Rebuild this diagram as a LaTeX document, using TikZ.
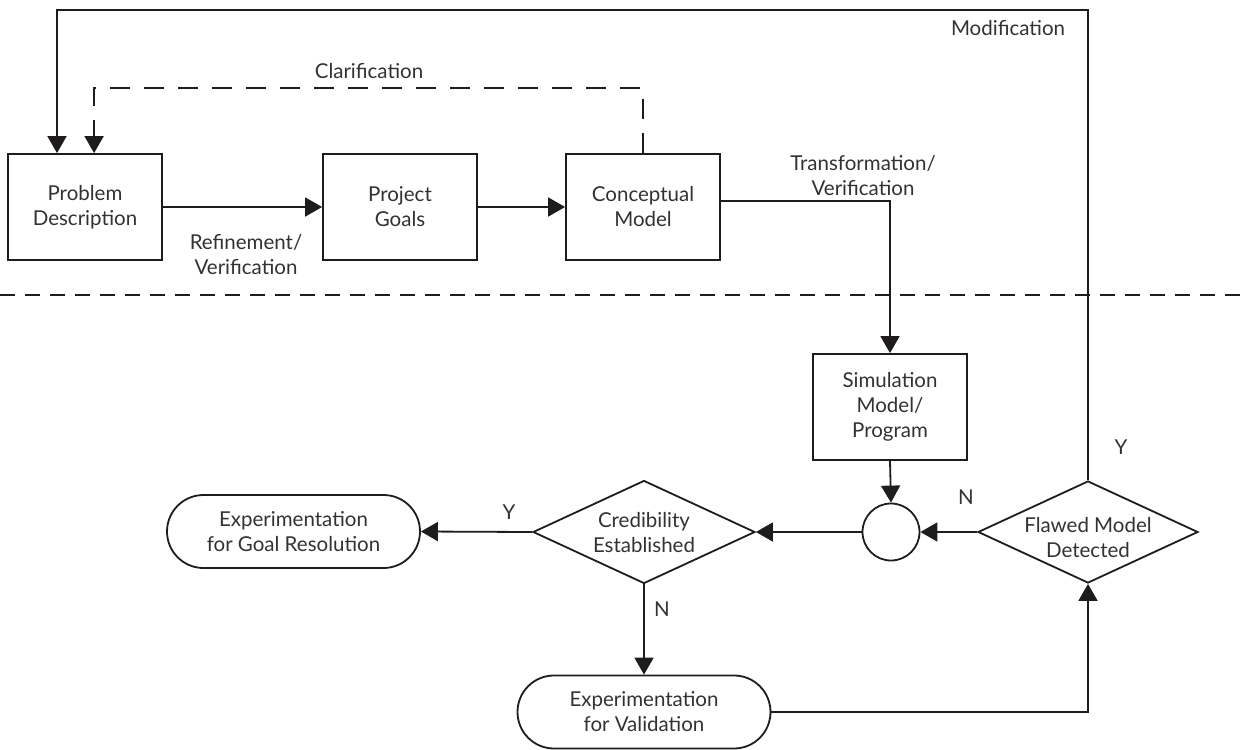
\documentclass[tikz,border=0pt]{standalone}
\usepackage{fontspec}
\setmainfont{Lato}
\usetikzlibrary{shapes.geometric,shapes.misc,arrows.meta}
\definecolor{linec}{RGB}{30,28,28}
\definecolor{txtc}{RGB}{50,50,50}
\begin{document}
\begin{tikzpicture}[x=1pt,y=-1pt,
  every node/.style={text=txtc, font=\fontsize{20.5}{25}\selectfont, align=center},
  base/.style={draw=linec, line width=1.8pt, inner sep=0pt},
  procbox/.style={base, rectangle, minimum width=154pt, minimum height=106pt},
  termbox/.style={base, rounded rectangle, minimum width=253pt, minimum height=73pt},
  decbox/.style={base, diamond},
  junc/.style={base, circle, minimum size=57pt},
  conn/.style={draw=linec, line width=1.8pt},
  arr/.style={conn, -{Triangle[length=17pt,width=19pt]}},
  lbl/.style={inner sep=1pt}
]
\useasboundingbox (0,0) rectangle (1243,750);

% process boxes
\node[procbox] (pd) at (85,207) {Problem\\Description};
\node[procbox] (pg) at (400,207) {Project\\Goals};
\node[procbox] (cm) at (643,207) {Conceptual\\Model};
\node[procbox] (sim) at (890,407) {Simulation\\Model/\\Program};

% junction
\node[junc] (j) at (891,532) {};

% decisions
\node[decbox, minimum width=222pt, minimum height=103pt] (cred) at (644,532) {};
\node[lbl] (credt) at (644,533) {Credibility\\Established};
\node[decbox, minimum width=220pt, minimum height=102pt] (fl) at (1088,532) {};
\node[lbl] (flt) at (1088,538) {Flawed Model\\Detected};

% terminals
\node[termbox] (goal) at (293.5,531.5) {Experimentation\\for Goal Resolution};
\node[termbox] (val) at (644,712) {Experimentation\\for Validation};

% separator
\coordinate (sepL) at (0,295);
\coordinate (sepR) at (1243,295);
\draw[conn, dash pattern=on 15pt off 10pt] (sepL) -- (sepR);

% top row connectors
\draw[arr] (pd.east) -- (pg.west);
\draw[arr] (pg.east) -- (cm.west);
\draw[arr] ([yshift=6pt]cm.east) -| (sim.north);
\draw[arr, dash pattern=on 20pt off 14pt] (cm.north) -- ++(0,-65) -| ([xshift=87pt]pd.north west);
\coordinate (modtop) at (57,10);
\draw[arr] (fl.north) |- (modtop) -- (modtop |- pd.north);

% lower connectors
\draw[arr] (sim.south) -- (j.north);
\draw[arr] (fl.west) -- (j.east);
\draw[arr] (j.west) -- (cred.east);
\draw[arr] (cred.west) -- (goal.east);
\draw[arr] (cred.south) -- (val.north);
\draw[arr] (val.east) -| (fl.south);

% labels
\node[lbl] (lref) at (246,255) {Refinement/\\Verification};
\node[lbl] (lcla) at (369,71) {Clarification};
\node[lbl] (lmod) at (1008,28) {Modification};
\node[lbl] (ltra) at (863,176) {Transformation/\\Verification};
\node[lbl] (ly1) at (1121,447) {Y};
\node[lbl] (ln1) at (966,497) {N};
\node[lbl] (ly2) at (509,512) {Y};
\node[lbl] (ln2) at (662,609) {N};
\end{tikzpicture}
\end{document}
